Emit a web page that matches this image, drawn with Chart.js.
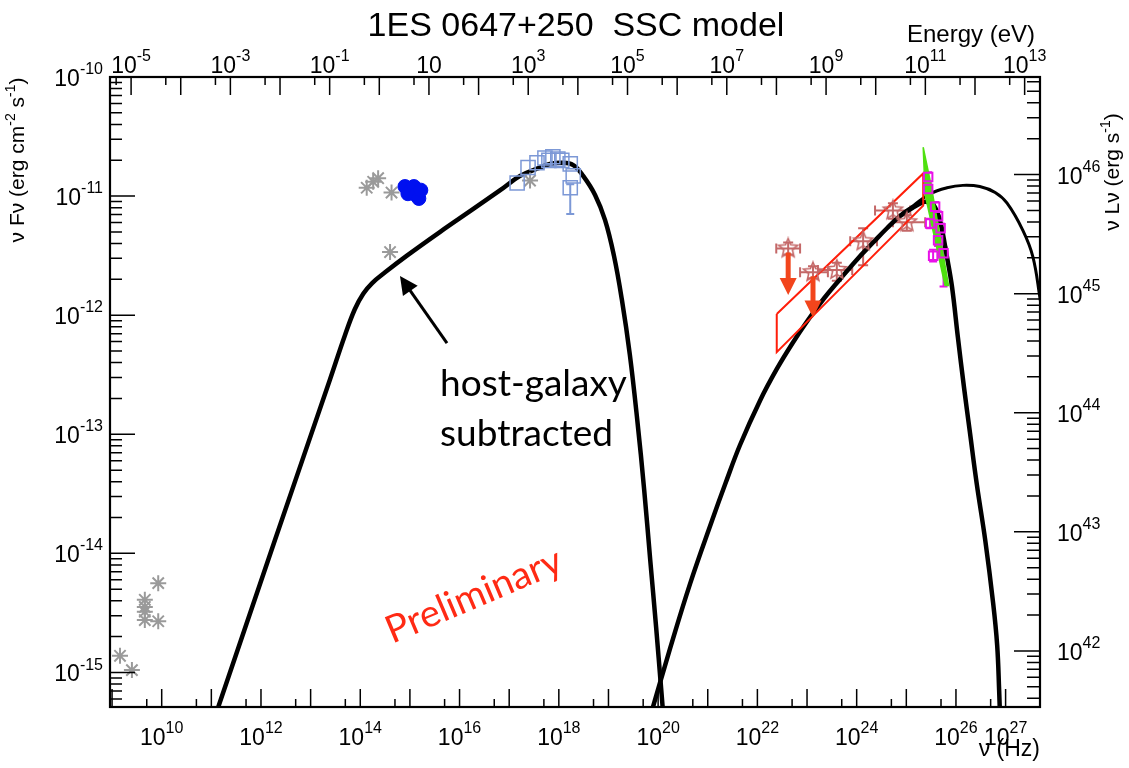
<!DOCTYPE html>
<html>
<head>
<meta charset="utf-8">
<title>1ES 0647+250 SSC model</title>
<script src="https://cdn.jsdelivr.net/npm/chart.js@4.4.1/dist/chart.umd.min.js"></script>
<style>
  html, body { margin: 0; padding: 0; background: #fff; }
  canvas { display: block; }
</style>
</head>
<body>
<canvas id="sedChart" width="1129" height="768"></canvas>
<script>
// Values are log10: nu in Hz, nuFnu in erg cm^-2 s^-1

// SSC model - synchrotron bump
const syncLogNu   = [11.05, 12.28, 13.39, 13.69, 13.89, 14.06, 14.24, 14.50, 14.94, 15.61, 16.27, 16.82, 17.22, 17.56, 17.82, 18.06, 18.29, 18.49, 18.73, 18.93, 19.11, 19.27, 19.43, 19.58, 19.72, 19.84, 19.96, 20.06, 20.12];
const syncLogFlux = [-15.40, -13.89, -12.54, -12.17, -11.95, -11.82, -11.73, -11.64, -11.50, -11.30, -11.11, -10.95, -10.83, -10.77, -10.73, -10.72, -10.74, -10.83, -10.99, -11.20, -11.50, -11.87, -12.33, -12.88, -13.47, -14.05, -14.62, -15.13, -15.44];

// SSC model - inverse Compton bump, EBL absorbed
const icLogNu   = [19.82, 20.24, 20.64, 21.09, 21.35, 21.65, 22.05, 22.38, 22.70, 23.02, 23.34, 23.66, 23.99, 24.33, 24.61, 24.87, 25.12, 25.34, 25.44, 25.54, 25.62, 25.70, 25.81, 25.92, 26.04, 26.16, 26.28, 26.42, 26.59, 26.75, 26.83, 26.87, 26.89];
const icLogFlux = [-15.40, -14.80, -14.26, -13.72, -13.42, -13.09, -12.72, -12.46, -12.24, -12.04, -11.86, -11.70, -11.54, -11.39, -11.27, -11.17, -11.10, -11.05, -11.05, -11.07, -11.13, -11.24, -11.49, -11.76, -12.19, -12.60, -12.98, -13.42, -13.89, -14.42, -14.77, -15.15, -15.40];

// SSC model - inverse Compton bump, intrinsic
const icIntrLogNu   = [24.61, 24.87, 25.14, 25.48, 25.82, 26.14, 26.48, 26.79, 27.03, 27.35, 27.55, 27.69, 27.77];
const icIntrLogFlux = [-11.27, -11.16, -11.08, -10.98, -10.93, -10.91, -10.92, -10.97, -11.06, -11.29, -11.51, -11.85, -12.08];

// archival data (grey asterisks)
const archLogNu   = [9.93, 9.66, 9.66, 9.66, 9.66, 9.93, 9.16, 9.40, 14.13, 14.26, 14.36, 14.63, 14.60, 17.42];
const archLogFlux = [-14.25, -14.39, -14.45, -14.49, -14.56, -14.57, -14.86, -14.98, -10.93, -10.88, -10.85, -10.97, -11.47, -10.87];

// optical/UV (blue dots)
const uvotLogNu   = [14.90, 14.96, 15.00, 15.08, 15.12, 15.18, 15.22];
const uvotLogFlux = [-10.92, -10.98, -10.96, -10.92, -10.99, -11.02, -10.95];

// X-ray (light blue squares)
const xrtLogNu   = [17.16, 17.38, 17.56, 17.72, 17.80, 17.88, 17.98, 18.06, 18.23, 18.29, 18.23];
const xrtLogFlux = [-10.89, -10.76, -10.72, -10.68, -10.70, -10.67, -10.69, -10.70, -10.73, -10.83, -10.93];
const xrtYlo     = [null, null, null, null, null, null, null, null, null, null, -11.15];
const xrtYhi     = [null, null, null, null, null, null, null, null, null, null, -10.90];

// Fermi-LAT points (open stars)
const latLogNu   = [22.62, 23.12, 23.60, 24.13, 24.73, 25.01];
const latLogFlux = [-11.44, -11.64, -11.62, -11.38, -11.12, -11.22];
const latXlo     = [22.38, 22.86, 23.22, 23.87, 24.37, 24.73];
const latXhi     = [22.86, 23.42, 23.91, 24.41, 25.08, 25.38];
const latYlo     = [-11.49, -11.69, -11.71, -11.58, -11.19, -11.29];
const latYhi     = [-11.39, -11.59, -11.56, -11.27, -11.06, -11.16];

// Fermi-LAT upper limits (arrows)
const ulLogNu      = [22.62, 23.12];
const ulLogFlux    = [-11.44, -11.64];
const ulTipLogFlux = [-11.83, -12.02];

// Fermi-LAT butterfly
const latBowLogNu   = [22.39, 25.34, 25.34, 22.39, 22.39];
const latBowLogFlux = [-11.99, -10.81, -11.08, -12.31, -11.99];

// VERITAS points (open squares)
const vtsLogNu   = [25.44, 25.44, 25.58, 25.64, 25.48, 25.69, 25.64, 25.54, 25.75];
const vtsLogFlux = [-10.84, -10.94, -11.09, -11.17, -11.23, -11.27, -11.37, -11.50, -11.48];
const vtsYlo     = [-10.88, -10.98, -11.13, -11.21, -11.27, -11.31, -11.42, -11.55, -11.76];
const vtsYhi     = [-10.80, -10.90, -11.05, -11.13, -11.19, -11.23, -11.32, -11.45, -11.43];

// VERITAS butterfly
const vtsBowLogNu   = [25.34, 25.50, 25.85, 25.78, 25.38, 25.34];
const vtsBowLogFlux = [-10.59, -10.91, -11.75, -11.75, -10.99, -10.59];

// axis ranges and tick labels
const logNuRange   = [8.9585, 27.693];
const logFluxRange = [-15.29, -10];
const logLumOffset = 56.819;          // log10(4 pi d^2)
const hPlanck      = 4.135667e-15;    // eV s
const nuLabelExps   = [10, 12, 14, 16, 18, 20, 22, 24, 26, 27];
const eLabelExps    = [-5, -3, -1, 1, 3, 5, 7, 9, 11, 13];
const fluxLabelExps = [-15, -14, -13, -12, -11, -10];
const lumLabelExps  = [42, 43, 44, 45, 46];

const FONT = '"Liberation Sans", Arial, sans-serif';
const toPts = (lx, ly) => lx.map((v, i) => ({ x: 10 ** v, y: 10 ** ly[i] }));

function starMarker(color, r) {
  const c = document.createElement('canvas');
  const s = Math.ceil(2 * r + 4);
  c.width = c.height = s;
  const g = c.getContext('2d');
  g.strokeStyle = color;
  g.lineWidth = 1.6;
  g.beginPath();
  for (let i = 0; i < 10; i++) {
    const a = -Math.PI / 2 + i * Math.PI / 5;
    const rr = i % 2 ? r * 0.45 : r;
    g.lineTo(s / 2 + rr * Math.cos(a), s / 2 + rr * Math.sin(a));
  }
  g.closePath();
  g.stroke();
  return c;
}

function decadeTicks(minors) {
  return scale => {
    const lo = scale.min * (1 - 1e-9), hi = scale.max * (1 + 1e-9);
    const out = [];
    for (let d = Math.floor(Math.log10(scale.min)); d <= Math.ceil(Math.log10(scale.max)); d++) {
      [1, ...minors].forEach(m => {
        const v = m * 10 ** d;
        if (v >= lo && v <= hi) out.push({ value: v, major: m === 1 });
      });
    }
    scale.ticks = out;
  };
}

function powLabel(ctx, exp, x, y, align, size) {
  const base = '10';
  const sup = exp === 1 ? '' : String(exp);
  const ss = Math.round(size * 0.68);
  ctx.font = size + 'px ' + FONT;
  const wb = ctx.measureText(base).width;
  ctx.font = ss + 'px ' + FONT;
  const ws = sup ? ctx.measureText(sup).width : 0;
  const w = wb + ws;
  const x0 = align === 'center' ? x - w / 2 : align === 'right' ? x - w : x;
  ctx.textAlign = 'left';
  ctx.textBaseline = 'alphabetic';
  ctx.font = size + 'px ' + FONT;
  ctx.fillText(base, x0, y);
  if (sup) {
    ctx.font = ss + 'px ' + FONT;
    ctx.fillText(sup, x0 + wb, y - size * 0.52);
  }
}

function richText(ctx, parts, x, y, size, align) {
  const ss = Math.round(size * 0.68);
  let w = 0;
  parts.forEach(p => { ctx.font = (p[1] ? ss : size) + 'px ' + FONT; w += ctx.measureText(p[0]).width; });
  let cx = align === 'center' ? x - w / 2 : align === 'right' ? x - w : x;
  ctx.textAlign = 'left';
  ctx.textBaseline = 'alphabetic';
  parts.forEach(p => {
    ctx.font = (p[1] ? ss : size) + 'px ' + FONT;
    ctx.fillText(p[0], cx, p[1] ? y - size * 0.45 : y);
    cx += ctx.measureText(p[0]).width;
  });
}

function arrow(ctx, x1, y1, x2, y2, width, head, color) {
  const a = Math.atan2(y2 - y1, x2 - x1);
  ctx.strokeStyle = color;
  ctx.fillStyle = color;
  ctx.lineWidth = width;
  ctx.beginPath();
  ctx.moveTo(x1, y1);
  ctx.lineTo(x2 - Math.cos(a) * head * 0.8, y2 - Math.sin(a) * head * 0.8);
  ctx.stroke();
  ctx.beginPath();
  ctx.moveTo(x2, y2);
  ctx.lineTo(x2 - head * Math.cos(a) + head * 0.5 * Math.sin(a), y2 - head * Math.sin(a) - head * 0.5 * Math.cos(a));
  ctx.lineTo(x2 - head * Math.cos(a) - head * 0.5 * Math.sin(a), y2 - head * Math.sin(a) + head * 0.5 * Math.cos(a));
  ctx.closePath();
  ctx.fill();
}

const errorBarSets = [
  { xs: latLogNu, ys: latLogFlux, xlo: latXlo, xhi: latXhi, ylo: latYlo, yhi: latYhi, color: 'rgb(196,104,104)', cap: 5 },
  { xs: vtsLogNu, ys: vtsLogFlux, ylo: vtsYlo, yhi: vtsYhi, color: '#e811e8', cap: 4 },
  { xs: xrtLogNu, ys: xrtLogFlux, ylo: xrtYlo, yhi: xrtYhi, color: '#7c98d6', cap: 4 }
];

const rootStyle = {
  id: 'rootStyle',
  beforeDraw(chart) {
    const ctx = chart.ctx;
    ctx.save();
    ctx.fillStyle = '#fff';
    ctx.fillRect(0, 0, chart.width, chart.height);
    ctx.restore();
  },
  beforeDatasetsDraw(chart) {
    const { ctx, chartArea: a, scales: { x, y } } = chart;
    ctx.save();
    ctx.beginPath();
    ctx.rect(a.left, a.top, a.right - a.left, a.bottom - a.top);
    ctx.clip();
    errorBarSets.forEach(s => {
      ctx.strokeStyle = s.color;
      ctx.lineWidth = 2;
      ctx.beginPath();
      s.xs.forEach((lx, i) => {
        const px = x.getPixelForValue(10 ** lx);
        const py = y.getPixelForValue(10 ** s.ys[i]);
        if (s.xlo && s.xlo[i] != null) {
          const x1 = x.getPixelForValue(10 ** s.xlo[i]);
          const x2 = x.getPixelForValue(10 ** s.xhi[i]);
          ctx.moveTo(x1, py); ctx.lineTo(x2, py);
          ctx.moveTo(x1, py - s.cap); ctx.lineTo(x1, py + s.cap);
          ctx.moveTo(x2, py - s.cap); ctx.lineTo(x2, py + s.cap);
        }
        if (s.ylo && s.ylo[i] != null) {
          const y1 = y.getPixelForValue(10 ** s.ylo[i]);
          const y2 = y.getPixelForValue(10 ** s.yhi[i]);
          ctx.moveTo(px, y1); ctx.lineTo(px, y2);
          ctx.moveTo(px - s.cap, y1); ctx.lineTo(px + s.cap, y1);
          ctx.moveTo(px - s.cap, y2); ctx.lineTo(px + s.cap, y2);
        }
      });
      ctx.stroke();
    });
    ctx.restore();
  },
  afterDatasetsDraw(chart) {
    const { ctx, scales: { x, y } } = chart;
    ctx.save();
    // Fermi upper limits
    ulLogNu.forEach((lx, i) => {
      const px = x.getPixelForValue(10 ** lx);
      const py = y.getPixelForValue(10 ** ulLogFlux[i]);
      const tip = y.getPixelForValue(10 ** ulTipLogFlux[i]);
      arrow(ctx, px, py + 4, px, tip, 5, 17, '#f2451c');
    });
    // host-galaxy pointer
    arrow(ctx, x.getPixelForValue(10 ** 15.747), y.getPixelForValue(10 ** -12.234),
      x.getPixelForValue(10 ** 14.80), y.getPixelForValue(10 ** -11.672), 3, 18, '#000');
    ctx.restore();
  },
  afterDraw(chart) {
    const { ctx, chartArea: a, scales } = chart;
    ctx.save();
    ctx.fillStyle = '#000';
    ctx.strokeStyle = '#000';

    // ticks
    ctx.lineWidth = 1.5;
    const tickDefs = [
      [scales.x, 'bottom', 18, 8],
      [scales.x2, 'top', 18, 8],
      [scales.y, 'left', 25, 12],
      [scales.y2, 'right', 26, 13]
    ];
    tickDefs.forEach(([s, side, maj, min]) => {
      ctx.beginPath();
      s.ticks.forEach(t => {
        const p = s.getPixelForValue(t.value);
        const len = t.major ? maj : min;
        if (side === 'bottom') { ctx.moveTo(p, a.bottom); ctx.lineTo(p, a.bottom - len); }
        if (side === 'top') { ctx.moveTo(p, a.top); ctx.lineTo(p, a.top + len); }
        if (side === 'left') { ctx.moveTo(a.left, p); ctx.lineTo(a.left + len, p); }
        if (side === 'right') { ctx.moveTo(a.right, p); ctx.lineTo(a.right - len, p); }
      });
      ctx.stroke();
    });

    // frame
    ctx.lineWidth = 2.2;
    ctx.strokeRect(a.left, a.top, a.right - a.left, a.bottom - a.top);

    // tick labels
    nuLabelExps.forEach(e => powLabel(ctx, e, scales.x.getPixelForValue(10 ** e), 745, 'center', 23));
    eLabelExps.forEach(e => powLabel(ctx, e, scales.x2.getPixelForValue(10 ** e), 73, 'center', 23));
    fluxLabelExps.forEach(e => powLabel(ctx, e, 103, scales.y.getPixelForValue(10 ** e) + 9, 'right', 23));
    lumLabelExps.forEach(e => powLabel(ctx, e, 1057, scales.y2.getPixelForValue(10 ** e) + 9, 'left', 23));

    // titles
    ctx.font = '34px ' + FONT;
    ctx.textAlign = 'center';
    ctx.textBaseline = 'alphabetic';
    ctx.fillText('1ES 0647+250  SSC model', 576, 36);
    ctx.font = '24px ' + FONT;
    ctx.textAlign = 'right';
    ctx.fillText('Energy (eV)', 1035, 42);
    ctx.font = '23px ' + FONT;
    ctx.fillText('\u03bd (Hz)', 1040, 756);

    ctx.save();
    ctx.translate(24, 160);
    ctx.rotate(-Math.PI / 2);
    richText(ctx, [['\u03bd F\u03bd (erg cm'], ['-2', true], [' s'], ['-1', true], [')']], 0, 0, 21, 'center');
    ctx.restore();

    ctx.save();
    ctx.translate(1119, 172);
    ctx.rotate(-Math.PI / 2);
    richText(ctx, [['\u03bd L\u03bd (erg s'], ['-1', true], [')']], 0, 0, 21, 'center');
    ctx.restore();

    // annotations
    ctx.font = '37px Lato, "Open Sans", sans-serif';
    ctx.textAlign = 'left';
    ctx.fillStyle = '#000';
    ctx.fillText('host-galaxy', 440, 396);
    ctx.fillText('subtracted', 440, 446);

    ctx.save();
    ctx.translate(474, 596);
    ctx.rotate(-23 * Math.PI / 180);
    ctx.font = '38px Lato, "Open Sans", sans-serif';
    ctx.textAlign = 'center';
    ctx.fillStyle = '#ff2a14';
    ctx.fillText('Preliminary', 0, 12);
    ctx.restore();

    ctx.restore();
  }
};

const axisCommon = {
  type: 'logarithmic',
  bounds: 'data',
  ticks: { display: false },
  grid: { display: false, drawTicks: false },
  border: { display: false }
};

const curveStyle = { showLine: true, pointRadius: 0, borderColor: '#000', tension: 0.4, borderCapStyle: 'round', borderJoinStyle: 'round' };

const ctx = document.getElementById('sedChart').getContext('2d');
new Chart(ctx, {
  type: 'scatter',
  data: {
    datasets: [
      { label: 'VERITAS', data: toPts(vtsLogNu, vtsLogFlux), pointStyle: 'rect', pointRadius: 6,
        borderColor: '#e811e8', backgroundColor: 'transparent', pointBorderWidth: 2 },
      { label: 'VERITAS butterfly', data: toPts(vtsBowLogNu, vtsBowLogFlux), showLine: true, pointRadius: 0,
        borderColor: '#4fe010', backgroundColor: '#4fe010', borderWidth: 1.5, fill: 'shape', tension: 0 },
      { label: 'LAT', data: toPts(latLogNu, latLogFlux), pointStyle: starMarker('rgb(196,104,104)', 10), pointRadius: 10 },
      { label: 'LAT butterfly', data: toPts(latBowLogNu, latBowLogFlux), showLine: true, pointRadius: 0,
        borderColor: '#ff1e0a', borderWidth: 2, tension: 0 },
      { label: 'XRT', data: toPts(xrtLogNu, xrtLogFlux), pointStyle: 'rect', pointRadius: 10,
        borderColor: '#7c98d6', backgroundColor: 'transparent', pointBorderWidth: 1.5 },
      { label: 'UVOT', data: toPts(uvotLogNu, uvotLogFlux), pointStyle: 'circle', pointRadius: 7,
        borderColor: '#0010f0', backgroundColor: '#0010f0' },
      { label: 'archival', data: toPts(archLogNu, archLogFlux), pointStyle: 'star', pointRadius: 8,
        borderColor: '#9a9a9a', backgroundColor: '#9a9a9a', pointBorderWidth: 2 },
      { label: 'IC intrinsic', data: toPts(icIntrLogNu, icIntrLogFlux), ...curveStyle, borderWidth: 3 },
      { label: 'IC absorbed', data: toPts(icLogNu, icLogFlux), ...curveStyle, borderWidth: 4.5 },
      { label: 'synchrotron', data: toPts(syncLogNu, syncLogFlux), ...curveStyle, borderWidth: 4.5 }
    ]
  },
  options: {
    responsive: false,
    animation: false,
    events: [],
    layout: { padding: 0 },
    plugins: { legend: { display: false }, title: { display: false }, tooltip: { enabled: false } },
    scales: {
      x: { ...axisCommon, position: 'bottom', min: 10 ** logNuRange[0], max: 10 ** logNuRange[1],
        afterBuildTicks: decadeTicks([5]), afterFit: s => { s.height = 61; } },
      x2: { ...axisCommon, position: 'top',
        min: 10 ** logNuRange[0] * hPlanck, max: 10 ** logNuRange[1] * hPlanck,
        afterBuildTicks: decadeTicks([5]), afterFit: s => { s.height = 77; } },
      y: { ...axisCommon, position: 'left', min: 10 ** logFluxRange[0], max: 10 ** logFluxRange[1],
        afterBuildTicks: decadeTicks([2, 3, 4, 5, 6, 7, 8, 9]), afterFit: s => { s.width = 110; } },
      y2: { ...axisCommon, position: 'right',
        min: 10 ** (logFluxRange[0] + logLumOffset), max: 10 ** (logFluxRange[1] + logLumOffset),
        afterBuildTicks: decadeTicks([2, 3, 4, 5, 6, 7, 8, 9]), afterFit: s => { s.width = 89; } }
    }
  },
  plugins: [rootStyle]
});
</script>
</body>
</html>
